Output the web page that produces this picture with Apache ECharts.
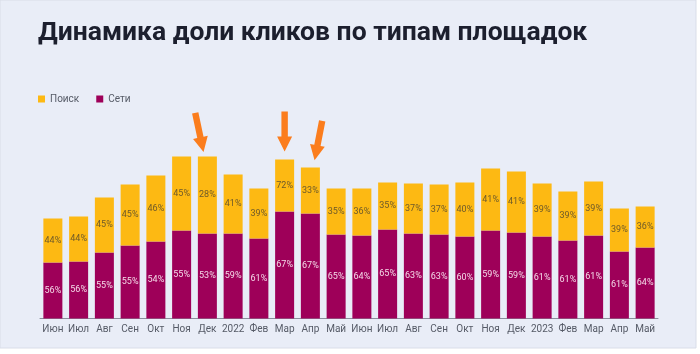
<!DOCTYPE html>
<html lang="ru">
<head>
    <meta charset="UTF-8">
    <title>Динамика доли кликов</title>
    <script src="https://cdn.jsdelivr.net/npm/echarts@6/dist/echarts.min.js"></script>
    <style>
        html, body { margin: 0; padding: 0; background: #ffffff; }
        #main { width: 700px; height: 354px; }
    </style>
</head>
<body>
<div id="main"></div>
<script type="text/javascript">
    // месяцы
    var months = ['Июн', 'Июл', 'Авг', 'Сен', 'Окт', 'Ноя', 'Дек', '2022', 'Фев', 'Мар', 'Апр', 'Май',
        'Июн', 'Июл', 'Авг', 'Сен', 'Окт', 'Ноя', 'Дек', '2023', 'Фев', 'Мар', 'Апр', 'Май'];
    // высоты столбцов (условные единицы)
    var setiHeight = [56, 57, 66, 73, 77, 88, 85, 85, 80, 107, 105, 84,
        83, 89, 85, 84, 82, 88, 86, 82, 78, 83, 67, 71];
    var poiskHeight = [44, 45, 55, 61, 66, 74, 77, 59, 50, 52, 46, 46,
        47, 47, 50, 50, 54, 62, 61, 53, 49, 54, 43, 41];
    // подписи в процентах
    var setiPct = [56, 56, 55, 55, 54, 55, 53, 59, 61, 67, 67, 65,
        64, 65, 63, 63, 60, 59, 59, 61, 61, 61, 61, 64];
    var poiskPct = [44, 44, 45, 45, 46, 45, 28, 41, 39, 72, 33, 35,
        36, 35, 37, 37, 40, 41, 41, 39, 39, 39, 39, 36];
    // стрелки: индекс месяца
    var arrowIdx = [6, 9, 10];

    var arrowPath = 'path://M4,0 L10,0 L10,25 L14,25 L7,40 L0,25 L4,25 Z';
    var arrowStyle = [
        {offset: [-8, -24], rotate: 12},
        {offset: [0, -28], rotate: 0},
        {offset: [8, -27], rotate: -11}
    ];
    var arrows = arrowIdx.map(function (i, k) {
        return {
            coord: [i, setiHeight[i] + poiskHeight[i]],
            symbol: arrowPath,
            symbolSize: [15, 40],
            symbolOffset: arrowStyle[k].offset,
            symbolRotate: arrowStyle[k].rotate,
            itemStyle: {color: '#fb7d1d'},
            label: {show: false}
        };
    });

    var myChart = echarts.init(document.getElementById('main'));

    var option = {
        animation: false,
        backgroundColor: '#ffffff',
        graphic: [{
            type: 'rect',
            z: -10,
            shape: {x: 0, y: 0, width: 696, height: 348},
            style: {fill: '#e9edf7', stroke: '#d9dde8', lineWidth: 1}
        }],
        title: {
            text: 'Динамика доли кликов по типам площадок',
            left: 33,
            top: 15,
            textStyle: {
                fontFamily: 'Roboto',
                fontWeight: 'bold',
                fontSize: 26.5,
                color: '#1c1f2e'
            }
        },
        legend: {
            left: 33,
            top: 89,
            icon: 'rect',
            itemWidth: 7,
            itemHeight: 7,
            itemGap: 17,
            textStyle: {fontFamily: 'Roboto', fontSize: 10, color: '#555a66'},
            data: ['Поиск', 'Сети']
        },
        grid: {
            left: 40,
            right: 42,
            top: 118.5,
            bottom: 35.5
        },
        xAxis: {
            type: 'category',
            data: months,
            axisLine: {lineStyle: {color: '#8a8f9c', width: 1}},
            axisTick: {show: false},
            axisLabel: {
                fontFamily: 'Roboto',
                fontSize: 10,
                color: '#555a66',
                margin: 6,
                interval: 0
            }
        },
        yAxis: {
            type: 'value',
            min: 0,
            max: 200,
            show: false,
            splitLine: {show: false}
        },
        series: [
            {
                name: 'Сети',
                type: 'bar',
                stack: 'all',
                barWidth: 19,
                data: setiHeight,
                itemStyle: {color: '#9e0059'},
                label: {
                    show: true,
                    position: 'inside',
                    fontFamily: 'Roboto',
                    fontSize: 9,
                    color: '#f4d9e8',
                    formatter: function (p) { return setiPct[p.dataIndex] + '%'; }
                }
            },
            {
                name: 'Поиск',
                type: 'bar',
                stack: 'all',
                barWidth: 19,
                data: poiskHeight,
                itemStyle: {color: '#fdb913'},
                label: {
                    show: true,
                    position: 'inside',
                    fontFamily: 'Roboto',
                    fontSize: 9,
                    color: '#6e5a2a',
                    formatter: function (p) { return poiskPct[p.dataIndex] + '%'; }
                },
                markPoint: {
                    silent: true,
                    data: arrows
                }
            }
        ]
    };

    myChart.setOption(option);
</script>
</body>
</html>
